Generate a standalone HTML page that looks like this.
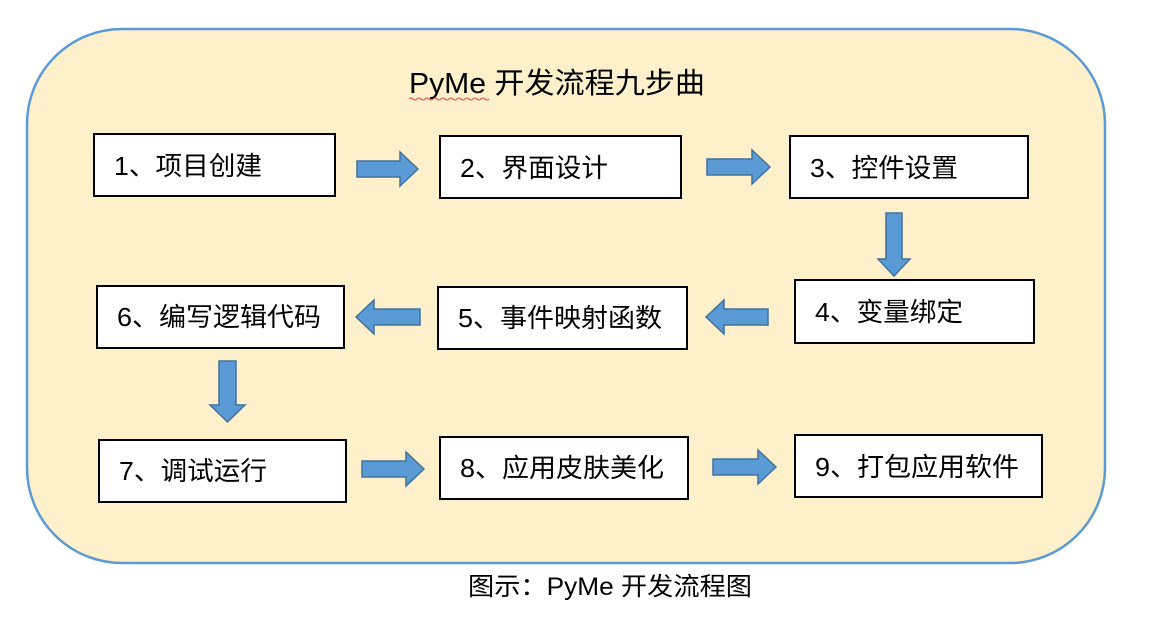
<!DOCTYPE html>
<html><head><meta charset="utf-8"><style>
html,body{margin:0;padding:0;background:#fff;width:1152px;height:641px;overflow:hidden}
text{font-family:"Liberation Sans","Noto Sans CJK SC",sans-serif;fill:#000}
</style></head><body>
<svg width="1152" height="641" viewBox="0 0 1152 641" xmlns="http://www.w3.org/2000/svg">
<rect x="27" y="29" width="1078" height="534" rx="95" ry="95" fill="#fff0cc" stroke="#5b9bd5" stroke-width="2.5"/>
<text x="557" y="93" font-size="29" text-anchor="middle" textLength="296" lengthAdjust="spacingAndGlyphs">PyMe 开发流程九步曲</text>
<path d="M409 99 q2 -2 4 0 t4 0 t4 0 t4 0 t4 0 t4 0 t4 0 t4 0 t4 0 t4 0 t4 0 t4 0 t4 0 t4 0 t4 0 t4 0 t4 0 t4 0 t4 0 t4 0" stroke="#e04040" fill="none" stroke-width="1"/>
<g fill="#fff" stroke="#000" stroke-width="2">
<rect x="94" y="134" width="241" height="62"/>
<rect x="440" y="136" width="241" height="62"/>
<rect x="790" y="136" width="238" height="62"/>
<rect x="795" y="280" width="239" height="63"/>
<rect x="438" y="287" width="249" height="62"/>
<rect x="97" y="286" width="247" height="62"/>
<rect x="99" y="440" width="247" height="62"/>
<rect x="440" y="437" width="248" height="62"/>
<rect x="795" y="435" width="247" height="62"/>
</g>
<g font-size="26">
<text x="114" y="175" textLength="148" lengthAdjust="spacingAndGlyphs">1、项目创建</text>
<text x="460" y="177" textLength="148" lengthAdjust="spacingAndGlyphs">2、界面设计</text>
<text x="810" y="177" textLength="148" lengthAdjust="spacingAndGlyphs">3、控件设置</text>
<text x="815" y="321" textLength="148" lengthAdjust="spacingAndGlyphs">4、变量绑定</text>
<text x="458" y="327" textLength="204" lengthAdjust="spacingAndGlyphs">5、事件映射函数</text>
<text x="117" y="326" textLength="204" lengthAdjust="spacingAndGlyphs">6、编写逻辑代码</text>
<text x="119" y="480" textLength="148" lengthAdjust="spacingAndGlyphs">7、调试运行</text>
<text x="460" y="477" textLength="204" lengthAdjust="spacingAndGlyphs">8、应用皮肤美化</text>
<text x="815" y="476" textLength="204" lengthAdjust="spacingAndGlyphs">9、打包应用软件</text>
</g>
<g fill="#5b9bd5" stroke="#41719c" stroke-width="1.5">
<path d="M357 161 H400 V152 L418 169 L400 186 V177 H357 Z"/>
<path d="M707 159 H752 V150 L770 167 L752 184 V175 H707 Z"/>
<path d="M362 461 H406 V452 L424 469 L406 486 V477 H362 Z"/>
<path d="M713 459 H758 V450 L776 467 L758 484 V475 H713 Z"/>
<path d="M768 309 H724 V300 L706 317 L724 334 V325 H768 Z"/>
<path d="M420 309 H374 V300 L356 317 L374 334 V325 H420 Z"/>
<path d="M886 213 H902 V259 H910 L894 276 L878 259 H886 Z"/>
<path d="M219 361 H236 V405 H245 L227.5 422 L210 405 H219 Z"/>
</g>
<text x="610" y="595" font-size="25" text-anchor="middle" textLength="284" lengthAdjust="spacingAndGlyphs">图示：PyMe 开发流程图</text>
</svg>
</body></html>
